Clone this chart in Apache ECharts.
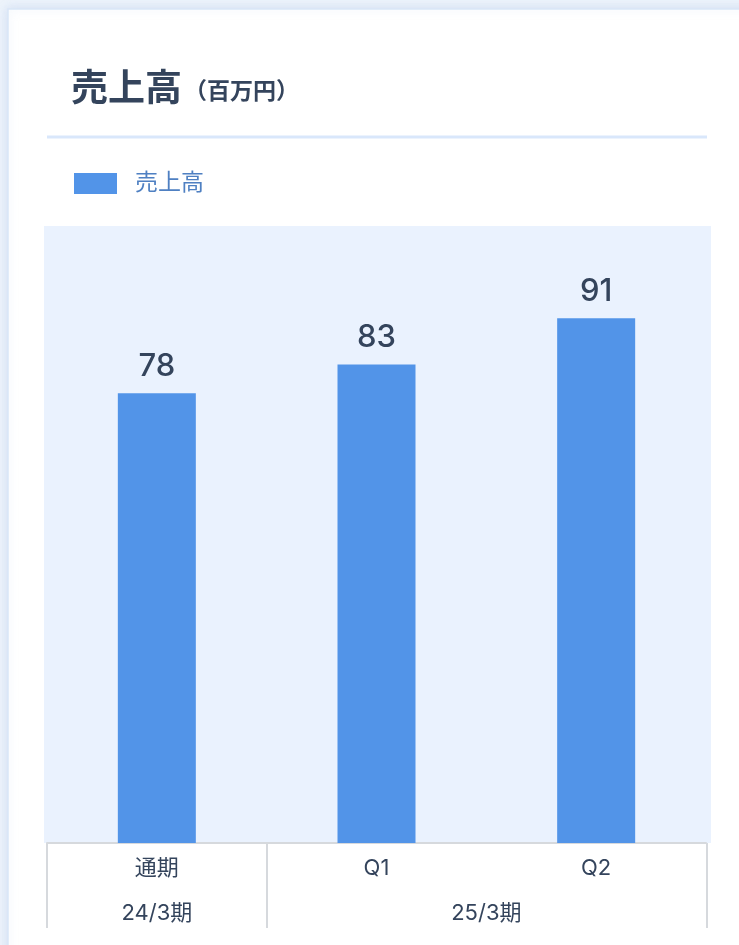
<!DOCTYPE html>
<html>
<head>
<meta charset="utf-8">
<script src="https://cdn.jsdelivr.net/npm/echarts@6/dist/echarts.min.js"></script>
<style>
  html, body { margin: 0; padding: 0; background: #edf3fb; }
  #main { width: 739px; height: 945px; }
</style>
</head>
<body>
<div id="main"></div>
<script>
// 売上高チャート

var categories = ['通期', 'Q1', 'Q2'];
var sales = [78, 83, 91];
var periods = ['24/3期', '25/3期'];
var periodSpans = [1, 2]; // 各期がまたぐカテゴリ数

var font = 'Inter, "Noto Sans CJK JP", sans-serif';
var textColor = '#34445c';
var lineGray = '#d6d9dd';

var chart = echarts.init(document.getElementById('main'));

var option = {
    backgroundColor: '#edf3fb',
    animation: false,
    title: {
        text: '{a|売上高}{b|（百万円）}',
        left: 66,
        top: 66,
        textStyle: {
            rich: {
                a: { fontSize: 37, fontWeight: 'bold', color: textColor, fontFamily: font },
                b: { fontSize: 23, fontWeight: 'bold', color: textColor, fontFamily: font, padding: [6, 0, 0, 2] }
            }
        }
    },
    legend: {
        data: ['売上高'],
        left: 69,
        top: 167,
        itemWidth: 43,
        itemHeight: 21,
        icon: 'rect',
        textStyle: {
            fontSize: 23,
            color: '#4f80c2',
            fontFamily: font,
            padding: [0, 0, 0, 13]
        }
    },
    grid: {
        left: 47,
        right: 33,
        top: 226,
        bottom: 102
    },
    xAxis: {
        type: 'category',
        data: categories,
        axisLine: { lineStyle: { color: lineGray, width: 2 } },
        axisTick: { show: false },
        axisLabel: {
            margin: 14,
            fontSize: 22,
            color: textColor,
            fontFamily: font
        }
    },
    yAxis: {
        type: 'value',
        min: 0,
        max: 107,
        show: false
    },
    series: [
        {
            name: '売上高',
            type: 'bar',
            data: sales,
            barWidth: 78,
            itemStyle: { color: '#5294e8' },
            label: {
                show: true,
                position: 'top',
                distance: 11,
                fontSize: 31,
                fontWeight: 500,
                color: textColor,
                fontFamily: font
            }
        }
    ]
};

chart.setOption(option);

// カードの枠、プロット背景、区切り線、表の罫線と期ラベル
var centers = categories.map(function (c) {
    return chart.convertToPixel({ xAxisIndex: 0 }, c);
});
var band = centers[1] - centers[0];
var axisY = chart.convertToPixel({ yAxisIndex: 0 }, 0);

var graphics = [
    {
        type: 'rect',
        z: -10,
        shape: { x: 8, y: 9, width: 760, height: 960 },
        style: {
            fill: '#ffffff',
            stroke: '#d9e6f8',
            lineWidth: 1.5,
            shadowBlur: 10,
            shadowColor: 'rgba(160,190,230,0.35)'
        }
    },
    {
        type: 'rect',
        z: -9,
        shape: { x: 44, y: 226, width: 667, height: axisY - 226 },
        style: { fill: '#eaf2fe' }
    },
    {
        type: 'line',
        shape: { x1: 47, y1: 137, x2: 707, y2: 137 },
        style: { stroke: '#d9e7fb', lineWidth: 3 }
    },
    {
        type: 'line',
        shape: { x1: 47, y1: axisY, x2: 47, y2: axisY + 85 },
        style: { stroke: lineGray, lineWidth: 2 }
    },
    {
        type: 'line',
        shape: { x1: 707, y1: axisY, x2: 707, y2: axisY + 85 },
        style: { stroke: lineGray, lineWidth: 2 }
    }
];

var idx = 0;
periods.forEach(function (p, i) {
    var first = idx;
    var last = idx + periodSpans[i] - 1;
    var cx = (centers[first] + centers[last]) / 2;
    graphics.push({
        type: 'text',
        x: cx,
        y: axisY + 70,
        style: {
            text: p,
            fontSize: 22,
            fill: textColor,
            fontFamily: font,
            align: 'center',
            verticalAlign: 'middle'
        }
    });
    if (i < periods.length - 1) {
        var bx = Math.round(centers[last] + band / 2);
        graphics.push({
            type: 'line',
            shape: { x1: bx, y1: axisY, x2: bx, y2: axisY + 85 },
            style: { stroke: lineGray, lineWidth: 2 }
        });
    }
    idx += periodSpans[i];
});

chart.setOption({ graphic: graphics });
</script>
</body>
</html>
